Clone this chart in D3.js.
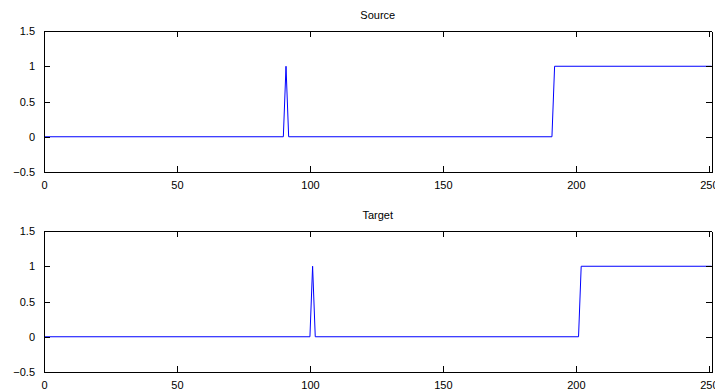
<!DOCTYPE html>
<html>
<head>
<meta charset="utf-8">
<script src="https://cdn.jsdelivr.net/npm/d3@7"></script>
<style>
  html, body { margin: 0; padding: 0; background: #fff; overflow: hidden; }
  svg { display: block; font-family: "Liberation Sans", Arial, Helvetica, sans-serif; }
</style>
</head>
<body>
<svg id="chart" width="715" height="391"></svg>
<script>
// breakpoints of each signal (sample index, value)
var sourceX = [0, 90, 91, 92, 191, 192, 251];
var sourceY = [0, 0, 1, 0, 0, 1, 1];
var targetX = [0, 100, 101, 102, 201, 202, 251];
var targetY = [0, 0, 1, 0, 0, 1, 1];

var xTicks = [0, 50, 100, 150, 200, 250];
var yTicks = [-0.5, 0, 0.5, 1, 1.5];
var titles = ['Source', 'Target'];

var svg = d3.select('#chart');
var left = 44, right = 711.5;
var panels = [
  { top: 31, bottom: 172, xs: sourceX, ys: sourceY, title: titles[0] },
  { top: 231, bottom: 372, xs: targetX, ys: targetY, title: titles[1] }
];

var x = d3.scaleLinear().domain([0, 251]).range([left, right]);
var fmt = d3.format('');

panels.forEach(function(p) {
  var y = d3.scaleLinear().domain([-0.5, 1.5]).range([p.bottom, p.top]);
  var g = svg.append('g');

  var line = d3.line()
    .x(function(d) { return x(d[0]); })
    .y(function(d) { return y(d[1]); });

  g.append('path')
    .datum(p.xs.map(function(v, i) { return [v, p.ys[i]]; }))
    .attr('d', line)
    .attr('fill', 'none')
    .attr('stroke', '#0000ff')
    .attr('stroke-width', 1);

  // MATLAB-style box: ticks point inward on all four sides
  var xb = g.append('g').attr('transform', 'translate(0,' + p.bottom + ')')
    .call(d3.axisBottom(x).tickValues(xTicks).tickSizeInner(-6).tickSizeOuter(0).tickPadding(9).tickFormat(fmt));
  var xt = g.append('g').attr('transform', 'translate(0,' + p.top + ')')
    .call(d3.axisTop(x).tickValues(xTicks).tickSizeInner(-6).tickSizeOuter(0).tickFormat(''));
  var yl = g.append('g').attr('transform', 'translate(' + left + ',0)')
    .call(d3.axisLeft(y).tickValues(yTicks).tickSizeInner(-6).tickSizeOuter(0).tickPadding(9).tickFormat(fmt));
  var yr = g.append('g').attr('transform', 'translate(' + right + ',0)')
    .call(d3.axisRight(y).tickValues(yTicks).tickSizeInner(-6).tickSizeOuter(0).tickFormat(''));

  [xb, xt, yl, yr].forEach(function(a) {
    a.select('.domain').attr('stroke', '#000').attr('stroke-width', 1).attr('shape-rendering', 'crispEdges');
    a.selectAll('.tick line').attr('stroke', '#000').attr('shape-rendering', 'crispEdges');
    a.selectAll('.tick text')
      .attr('fill', '#000')
      .style('font-size', '11px')
      .style('font-family', '"Liberation Sans", Arial, sans-serif');
  });

  g.append('text')
    .attr('x', (left + right) / 2)
    .attr('y', p.top - 12)
    .attr('text-anchor', 'middle')
    .style('font-size', '11px')
    .attr('fill', '#000')
    .text(p.title);
});
</script>
</body>
</html>
